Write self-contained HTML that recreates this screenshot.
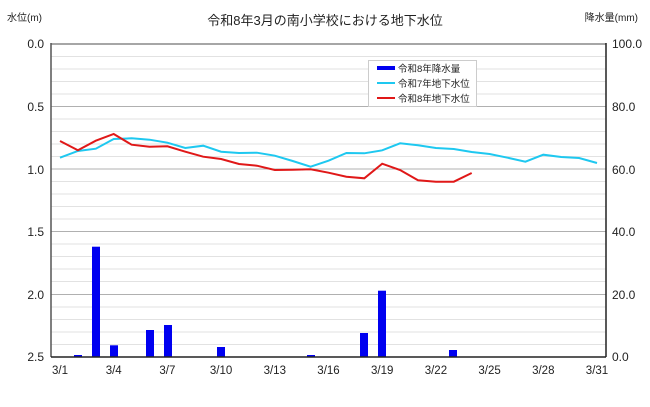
<!DOCTYPE html>
<html><head><meta charset="utf-8"><style>
body{margin:0;background:#fff}
text{font-family:"Liberation Sans","Noto Sans CJK JP",sans-serif;fill:#222}
</style></head><body>
<svg width="650" height="402" viewBox="0 0 650 402" xmlns="http://www.w3.org/2000/svg">
<rect width="650" height="402" fill="#fff"/>
<g stroke="#e2e2e2" stroke-width="1">
<line x1="51" x2="606" y1="56.5" y2="56.5"/><line x1="51" x2="606" y1="69" y2="69"/><line x1="51" x2="606" y1="81.5" y2="81.5"/><line x1="51" x2="606" y1="94" y2="94"/>
<line x1="51" x2="606" y1="119" y2="119"/><line x1="51" x2="606" y1="131.5" y2="131.5"/><line x1="51" x2="606" y1="144" y2="144"/><line x1="51" x2="606" y1="156.5" y2="156.5"/>
<line x1="51" x2="606" y1="181.5" y2="181.5"/><line x1="51" x2="606" y1="194" y2="194"/><line x1="51" x2="606" y1="206.5" y2="206.5"/><line x1="51" x2="606" y1="219" y2="219"/>
<line x1="51" x2="606" y1="244" y2="244"/><line x1="51" x2="606" y1="256.5" y2="256.5"/><line x1="51" x2="606" y1="269" y2="269"/><line x1="51" x2="606" y1="281.5" y2="281.5"/>
<line x1="51" x2="606" y1="307" y2="307"/><line x1="51" x2="606" y1="319.5" y2="319.5"/><line x1="51" x2="606" y1="332" y2="332"/><line x1="51" x2="606" y1="344.5" y2="344.5"/>
</g>
<g stroke="#b0b0b0" stroke-width="1">
<line x1="51" x2="606" y1="106.5" y2="106.5"/><line x1="51" x2="606" y1="169" y2="169"/><line x1="51" x2="606" y1="231.5" y2="231.5"/><line x1="51" x2="606" y1="294.5" y2="294.5"/>
</g>
<line x1="51" x2="606" y1="44" y2="44" stroke="#888" stroke-width="1.5"/>
<g fill="#0000f0">
<rect x="74" y="355" width="8" height="2"/>
<rect x="92" y="246.7" width="8" height="110.3"/>
<rect x="110" y="345.3" width="8" height="11.7"/>
<rect x="146" y="330" width="8" height="27"/>
<rect x="164" y="325" width="8" height="32"/>
<rect x="217" y="347" width="8" height="10"/>
<rect x="307" y="355" width="8" height="2"/>
<rect x="360" y="333" width="8" height="24"/>
<rect x="378" y="290.7" width="8" height="66.3"/>
<rect x="449" y="350" width="8" height="7"/>
</g>
<polyline fill="none" stroke="#1ec8f0" stroke-width="2" points="60,157.7 77.9,151 95.8,148.7 113.7,139 131.6,138.3 149.5,139.7 167.4,142.7 185.3,148 203.2,145.7 221.1,151.7 239,153 256.9,152.7 274.8,155.7 292.7,161 310.6,166.7 328.5,160.7 346.4,153 364.3,153.3 382.2,150.3 400.1,143.3 418,145.3 435.9,148 453.8,149 471.7,152 489.6,154 507.5,157.7 525.4,161.7 543.3,154.7 561.2,157 579.1,158 597,163"/>
<polyline fill="none" stroke="#e01818" stroke-width="2" points="60,141 77.9,150.3 95.8,140.7 113.7,134 131.6,144.7 149.5,146.7 167.4,146.3 185.3,151.7 203.2,156.7 221.1,159 239,164 256.9,165.7 274.8,170 292.7,169.7 310.6,169.3 328.5,172.7 346.4,176.7 364.3,178.3 382.2,163.7 400.1,170 418,180.3 435.9,181.7 453.8,181.7 471.7,173"/>
<line x1="51" x2="51" y1="43" y2="357" stroke="#555" stroke-width="1.5"/>
<line x1="606" x2="606" y1="43" y2="357" stroke="#222" stroke-width="1.5"/>
<line x1="51" x2="606" y1="357" y2="357" stroke="#222" stroke-width="1.5"/>
<rect x="368.5" y="60.5" width="108" height="46" fill="#fff" stroke="#ccc"/>
<rect x="377" y="66" width="18" height="4" fill="#0000f0"/>
<line x1="377" x2="395" y1="83" y2="83" stroke="#1ec8f0" stroke-width="2"/>
<line x1="377" x2="395" y1="98" y2="98" stroke="#e01818" stroke-width="2"/>
<g font-size="9.5">
<text x="398" y="72">令和8年降水量</text>
<text x="398" y="87">令和7年地下水位</text>
<text x="398" y="102">令和8年地下水位</text>
</g>
<text x="325" y="25" font-size="13" text-anchor="middle">令和8年3月の南小学校における地下水位</text>
<text x="7" y="21" font-size="10">水位(m)</text>
<text x="638" y="21" font-size="10" text-anchor="end">降水量(mm)</text>
<g font-size="12" text-anchor="end">
<text x="44" y="48">0.0</text><text x="44" y="111">0.5</text><text x="44" y="174">1.0</text><text x="44" y="236">1.5</text><text x="44" y="299">2.0</text><text x="44" y="361">2.5</text>
</g>
<g font-size="12">
<text x="612" y="48">100.0</text><text x="612" y="111">80.0</text><text x="612" y="174">60.0</text><text x="612" y="236">40.0</text><text x="612" y="299">20.0</text><text x="612" y="361">0.0</text>
</g>
<g font-size="11.5" text-anchor="middle">
<text x="60" y="374">3/1</text><text x="113.7" y="374">3/4</text><text x="167.4" y="374">3/7</text><text x="221.1" y="374">3/10</text><text x="274.8" y="374">3/13</text><text x="328.5" y="374">3/16</text><text x="382.2" y="374">3/19</text><text x="435.9" y="374">3/22</text><text x="489.6" y="374">3/25</text><text x="543.3" y="374">3/28</text><text x="597" y="374">3/31</text>
</g>
</svg>
</body></html>
